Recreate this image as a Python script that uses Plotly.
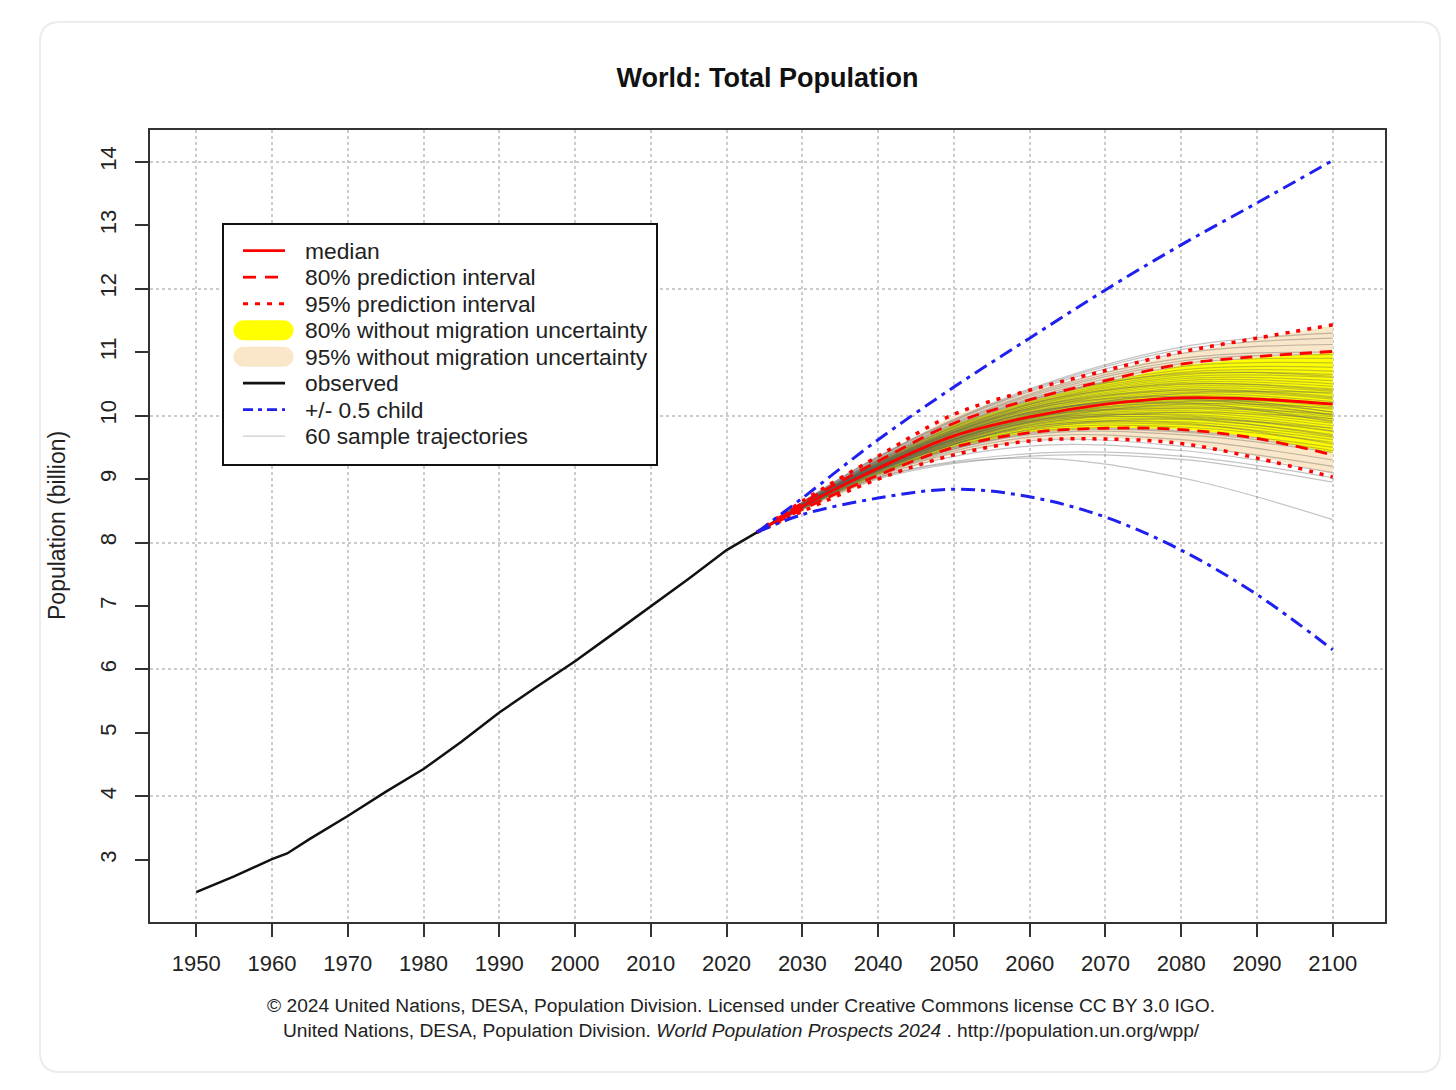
import plotly.graph_objects as go

# observed world population (billion)
obs_years = [1950, 1955, 1960, 1962, 1965, 1970, 1975, 1980, 1985, 1990,
             1995, 2000, 2005, 2010, 2015, 2020, 2024]
obs_pop = [2.49, 2.74, 3.01, 3.10, 3.33, 3.69, 4.07, 4.43, 4.86, 5.32,
           5.73, 6.13, 6.56, 6.99, 7.43, 7.88, 8.16]

# projections
proj_years = [2024, 2030, 2040, 2050, 2060, 2070, 2080, 2090, 2100]
median = [8.16, 8.57, 9.17, 9.68, 9.98, 10.18, 10.28, 10.26, 10.18]
pi80_up = [8.16, 8.62, 9.28, 9.88, 10.25, 10.55, 10.81, 10.93, 11.01]
pi80_lo = [8.16, 8.52, 9.06, 9.50, 9.73, 9.80, 9.78, 9.64, 9.38]
pi95_up = [8.16, 8.65, 9.36, 10.02, 10.40, 10.71, 11.00, 11.22, 11.43]
pi95_lo = [8.16, 8.49, 9.00, 9.38, 9.60, 9.63, 9.56, 9.33, 9.03]
nomig80_up = [8.16, 8.61, 9.27, 9.86, 10.23, 10.53, 10.79, 10.91, 10.99]
nomig80_lo = [8.16, 8.53, 9.07, 9.51, 9.74, 9.81, 9.79, 9.66, 9.41]
nomig95_up = [8.16, 8.64, 9.35, 10.00, 10.38, 10.69, 10.98, 11.20, 11.42]
nomig95_lo = [8.16, 8.50, 9.01, 9.40, 9.62, 9.65, 9.58, 9.36, 9.08]
child_up = [8.16, 8.70, 9.62, 10.45, 11.22, 11.98, 12.69, 13.35, 14.02]
child_lo = [8.16, 8.44, 8.70, 8.84, 8.72, 8.40, 7.88, 7.18, 6.31]

# 60 sample trajectories (values at traj_years)
traj_years = [2024, 2040, 2060, 2080, 2100]
trajectories = [
    [8.16, 9.02, 9.33, 9.02, 8.36], [8.16, 9.00, 9.36, 9.31, 8.95],
    [8.16, 9.03, 9.40, 9.36, 9.02], [8.16, 9.05, 9.52, 9.45, 9.10],
    [8.16, 9.07, 9.60, 9.52, 9.20], [8.16, 9.08, 9.66, 9.62, 9.30],
    [8.16, 9.10, 9.70, 9.70, 9.42], [8.16, 9.11, 9.74, 9.76, 9.50],
    [8.16, 9.12, 9.77, 9.82, 9.58], [8.16, 9.13, 9.80, 9.86, 9.62],
    [8.16, 9.14, 9.82, 9.90, 9.66], [8.16, 9.14, 9.84, 9.94, 9.70],
    [8.16, 9.15, 9.86, 9.98, 9.75], [8.16, 9.15, 9.88, 10.02, 9.80],
    [8.16, 9.16, 9.90, 10.05, 9.84], [8.16, 9.16, 9.91, 10.08, 9.88],
    [8.16, 9.17, 9.93, 10.11, 9.92], [8.16, 9.17, 9.94, 10.14, 9.95],
    [8.16, 9.18, 9.96, 10.17, 9.98], [8.16, 9.18, 9.97, 10.20, 10.02],
    [8.16, 9.19, 9.99, 10.23, 10.06], [8.16, 9.19, 10.00, 10.25, 10.10],
    [8.16, 9.20, 10.02, 10.28, 10.14], [8.16, 9.20, 10.03, 10.31, 10.18],
    [8.16, 9.21, 10.05, 10.34, 10.22], [8.16, 9.21, 10.06, 10.37, 10.26],
    [8.16, 9.22, 10.08, 10.40, 10.30], [8.16, 9.22, 10.09, 10.43, 10.34],
    [8.16, 9.23, 10.11, 10.46, 10.38], [8.16, 9.23, 10.12, 10.49, 10.42],
    [8.16, 9.24, 10.14, 10.52, 10.46], [8.16, 9.24, 10.15, 10.55, 10.50],
    [8.16, 9.25, 10.17, 10.58, 10.55], [8.16, 9.25, 10.18, 10.61, 10.60],
    [8.16, 9.26, 10.20, 10.64, 10.65], [8.16, 9.27, 10.22, 10.68, 10.70],
    [8.16, 9.28, 10.24, 10.72, 10.76], [8.16, 9.29, 10.27, 10.77, 10.83],
    [8.16, 9.30, 10.30, 10.82, 10.90], [8.16, 9.32, 10.34, 10.90, 11.00],
    [8.16, 9.34, 10.38, 10.98, 11.12], [8.16, 9.35, 10.40, 11.04, 11.22],
    [8.16, 9.36, 10.42, 11.08, 11.30], [8.16, 9.18, 9.92, 10.00, 9.76],
    [8.16, 9.12, 9.85, 10.05, 9.95], [8.16, 9.20, 10.05, 10.20, 9.90],
    [8.16, 9.14, 9.90, 10.18, 10.12], [8.16, 9.22, 10.10, 10.30, 10.05],
    [8.16, 9.10, 9.78, 9.95, 9.80], [8.16, 9.24, 10.12, 10.40, 10.28],
    [8.16, 9.16, 9.95, 10.22, 10.20], [8.16, 9.26, 10.18, 10.50, 10.40],
    [8.16, 9.13, 9.82, 9.88, 9.55], [8.16, 9.19, 10.01, 10.35, 10.36],
    [8.16, 9.09, 9.72, 9.74, 9.45], [8.16, 9.21, 10.04, 10.26, 10.00],
    [8.16, 9.28, 10.25, 10.66, 10.62], [8.16, 9.17, 9.96, 10.12, 10.02],
    [8.16, 9.15, 9.89, 9.96, 9.68], [8.16, 9.31, 10.32, 10.86, 10.96],
]

legend_labels = ["median", "80% prediction interval", "95% prediction interval",
                 "80% without migration uncertainty", "95% without migration uncertainty",
                 "observed", "+/- 0.5 child", "60 sample trajectories"]

x_ticks = list(range(1950, 2101, 10))
FONT = "Liberation Sans, Arial, sans-serif"
TXT = "#222222"
RED = "#ff0000"
BLUE = "#1f1ff0"
YELLOW = "#ffff00"
BEIGE = "#fae6c8"
TRAJ = "rgba(90,90,90,0.36)"

# plot area in screen pixels (used only to place layout items)
PX0, PX1, PY0, PY1 = 150, 1385, 130, 922


def px_x(x):
    return (x - PX0) / (PX1 - PX0)


def px_y(y):
    return 1 - (y - PY0) / (PY1 - PY0)


fig = go.Figure()

# shaded bands
fig.add_trace(go.Scatter(
    x=proj_years + proj_years[::-1], y=nomig95_up + nomig95_lo[::-1],
    fill="toself", fillcolor=BEIGE, line=dict(width=0),
    mode="lines", showlegend=False, hoverinfo="skip"))
fig.add_trace(go.Scatter(
    x=proj_years + proj_years[::-1], y=nomig80_up + nomig80_lo[::-1],
    fill="toself", fillcolor=YELLOW, line=dict(width=0),
    mode="lines", showlegend=False, hoverinfo="skip"))

# sample trajectories in one trace
tx, ty = [], []
for tr in trajectories:
    tx += traj_years + [None]
    ty += tr + [None]
fig.add_trace(go.Scatter(x=tx, y=ty, mode="lines", line=dict(color=TRAJ, width=1.2, shape="spline"),
                         name="60 sample trajectories", hoverinfo="skip"))

dot95 = dict(color=RED, width=3.5, dash="4px,7px", shape="spline")
dash80 = dict(color=RED, width=2.8, dash="12px,8px", shape="spline")
dashdot = dict(color=BLUE, width=3, dash="14px,6px,4px,6px", shape="spline")

fig.add_trace(go.Scatter(x=proj_years, y=pi95_up, mode="lines", line=dot95, name="95% prediction interval"))
fig.add_trace(go.Scatter(x=proj_years, y=pi95_lo, mode="lines", line=dot95, name="95% prediction interval"))
fig.add_trace(go.Scatter(x=proj_years, y=pi80_up, mode="lines", line=dash80, name="80% prediction interval"))
fig.add_trace(go.Scatter(x=proj_years, y=pi80_lo, mode="lines", line=dash80, name="80% prediction interval"))
fig.add_trace(go.Scatter(x=proj_years, y=median, mode="lines",
                         line=dict(color=RED, width=2.8, shape="spline"), name="median"))
fig.add_trace(go.Scatter(x=proj_years, y=child_up, mode="lines", line=dashdot, name="+/- 0.5 child"))
fig.add_trace(go.Scatter(x=proj_years, y=child_lo, mode="lines", line=dashdot, name="+/- 0.5 child"))
fig.add_trace(go.Scatter(x=obs_years, y=obs_pop, mode="lines",
                         line=dict(color="#111111", width=2.5), name="observed"))
# carries the y2 gridlines
fig.add_trace(go.Scatter(x=[None], y=[None], yaxis="y2", showlegend=False, hoverinfo="skip"))

# card outline
x0, x1, y0, y1 = px_x(40), px_x(1440), px_y(1072), px_y(22)
rx, ry = 20 / 1235, 20 / 792
card = (f"M{x0 + rx},{y1} L{x1 - rx},{y1} Q{x1},{y1} {x1},{y1 - ry} "
        f"L{x1},{y0 + ry} Q{x1},{y0} {x1 - rx},{y0} L{x0 + rx},{y0} "
        f"Q{x0},{y0} {x0},{y0 + ry} L{x0},{y1 - ry} Q{x0},{y1} {x0 + rx},{y1} Z")
fig.add_shape(type="path", path=card, xref="paper", yref="paper",
              line=dict(color="#ececec", width=2), fillcolor="white", layer="below")

# legend box, drawn by hand to match R's compact spacing
fig.add_shape(type="rect", xref="paper", yref="paper",
              x0=px_x(223), x1=px_x(657), y0=px_y(465), y1=px_y(224),
              line=dict(color="#111111", width=2), fillcolor="white", layer="above")
row_y = [250.7 + 26.5 * i for i in range(len(legend_labels))]
line_styles = [
    dict(color=RED, width=2.8),
    dict(color=RED, width=2.8, dash="13px,9px"),
    dict(color=RED, width=3, dash="5px,7px"),
    None,
    None,
    dict(color="#111111", width=2.8),
    dict(color=BLUE, width=2.8, dash="10px,5px,4px,5px"),
    dict(color="#cccccc", width=1.2),
]
bar_colors = {3: YELLOW, 4: BEIGE}
bar = ("M-20,-10 L20,-10 C25.5,-10 30,-5.5 30,0 C30,5.5 25.5,10 20,10 "
       "L-20,10 C-25.5,10 -30,5.5 -30,0 C-30,-5.5 -25.5,-10 -20,-10 Z")
for i, (label, yy) in enumerate(zip(legend_labels, row_y)):
    if i in bar_colors:
        fig.add_shape(type="path", path=bar, xref="paper", yref="paper",
                      xsizemode="pixel", ysizemode="pixel",
                      xanchor=px_x(263.5), yanchor=px_y(yy),
                      fillcolor=bar_colors[i], line=dict(width=0), layer="above")
    else:
        fig.add_shape(type="line", xref="paper", yref="paper",
                      x0=px_x(243), x1=px_x(285), y0=px_y(yy), y1=px_y(yy),
                      line=line_styles[i], layer="above")
    fig.add_annotation(text=label, x=px_x(303), y=px_y(yy), xref="paper", yref="paper",
                       showarrow=False, xanchor="left", yanchor="middle",
                       font=dict(family=FONT, size=22.8, color=TXT))

fig.update_layout(
    width=1440, height=1074,
    margin=dict(l=142, r=63, t=122, b=160),
    paper_bgcolor="white", plot_bgcolor="white",
    font=dict(family=FONT, size=22, color=TXT),
    title=dict(text="<b>World: Total Population</b>", x=0.5, xref="paper", xanchor="center",
               y=1 - 70 / 1074, yref="container", yanchor="middle",
               font=dict(family=FONT, size=27, color="#111111")),
    xaxis=dict(range=[1943.9, 2106.9], tickvals=x_ticks, ticks="outside", ticklen=13,
               tickwidth=1.5, tickcolor="#333333", showline=True, mirror=True,
               linecolor="#333333", linewidth=2, showgrid=True, gridcolor="#cccccc",
               griddash="dot", gridwidth=1.5, zeroline=False, ticklabelstandoff=8),
    yaxis=dict(range=[2.02, 14.5], tick0=0, dtick=1, ticks="outside", ticklen=13,
               tickwidth=1.5, tickcolor="#333333", showline=True, mirror=True,
               linecolor="#333333", linewidth=2, showgrid=False, zeroline=False,
               tickangle=-90, ticklabelstandoff=10),
    yaxis2=dict(range=[2.02, 14.5], tick0=0, dtick=2, overlaying="y", showgrid=True,
                gridcolor="#cccccc", griddash="dot", gridwidth=1.5, showticklabels=False,
                ticks="", showline=False, zeroline=False),
    showlegend=False,
)

fig.add_annotation(text="Population (billion)", textangle=-90, x=px_x(57), y=0.5,
                   xref="paper", yref="paper", showarrow=False, xanchor="center", yanchor="middle",
                   font=dict(family=FONT, size=23, color=TXT))
fig.add_annotation(text="© 2024 United Nations, DESA, Population Division. Licensed under Creative Commons license CC BY 3.0 IGO.",
                   x=px_x(741), y=px_y(1006), xref="paper", yref="paper", showarrow=False,
                   xanchor="center", yanchor="middle", font=dict(family=FONT, size=19.2, color=TXT))
fig.add_annotation(text="United Nations, DESA, Population Division. <i>World Population Prospects 2024</i> . http://population.un.org/wpp/",
                   x=px_x(741), y=px_y(1031), xref="paper", yref="paper", showarrow=False,
                   xanchor="center", yanchor="middle", font=dict(family=FONT, size=19.2, color=TXT))

fig.write_html("out.html")
